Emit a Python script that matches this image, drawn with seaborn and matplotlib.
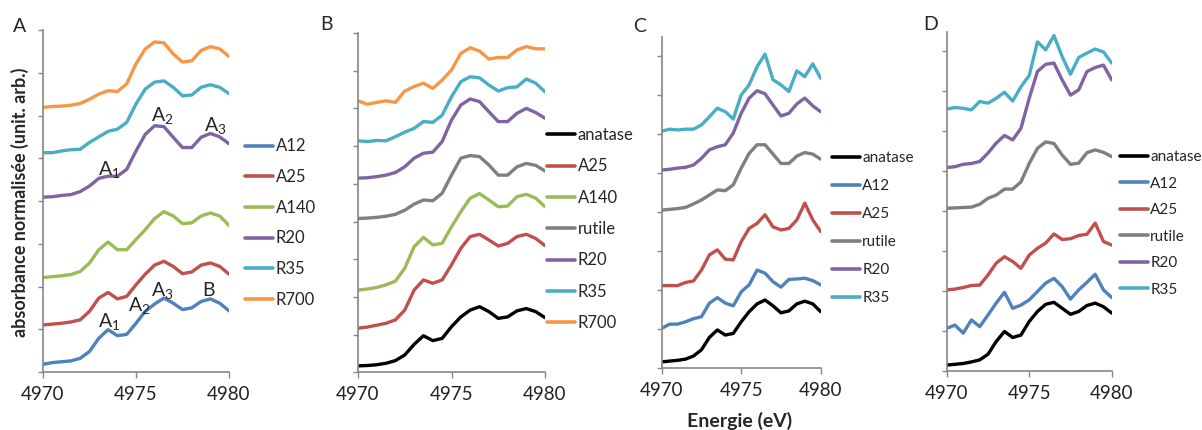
import matplotlib
matplotlib.use("Agg")
import matplotlib.pyplot as plt
from matplotlib.lines import Line2D
import pandas as pd
import seaborn as sns

# energy grid (eV)
energy = [4970.0, 4970.5, 4971.0, 4971.5, 4972.0, 4972.5, 4973.0, 4973.5, 4974.0, 4974.5,
          4975.0, 4975.5, 4976.0, 4976.5, 4977.0, 4977.5, 4978.0, 4978.5, 4979.0, 4979.5, 4980.0]

# panel A (offset spectra, arb. units)
a_A12 = [0.18, 0.22, 0.24, 0.26, 0.32, 0.48, 0.79, 0.99, 0.85, 0.88, 1.14,
         1.42, 1.59, 1.73, 1.61, 1.46, 1.50, 1.65, 1.71, 1.61, 1.43]
a_A25 = [1.10, 1.12, 1.14, 1.17, 1.22, 1.42, 1.73, 1.86, 1.71, 1.77, 2.04,
         2.29, 2.50, 2.59, 2.47, 2.30, 2.34, 2.50, 2.55, 2.47, 2.29]
a_A140 = [2.21, 2.23, 2.25, 2.28, 2.35, 2.55, 2.86, 3.04, 2.86, 2.86, 3.10,
          3.33, 3.59, 3.75, 3.65, 3.47, 3.49, 3.65, 3.72, 3.65, 3.43]
a_R20 = [4.09, 4.10, 4.13, 4.15, 4.22, 4.35, 4.53, 4.58, 4.58, 4.74, 5.17,
         5.56, 5.76, 5.74, 5.49, 5.25, 5.25, 5.49, 5.58, 5.50, 5.34]
a_R35 = [5.13, 5.13, 5.17, 5.20, 5.21, 5.37, 5.50, 5.63, 5.68, 5.84, 6.27,
         6.62, 6.78, 6.81, 6.66, 6.46, 6.48, 6.66, 6.72, 6.66, 6.51]
a_R700 = [6.19, 6.21, 6.22, 6.24, 6.28, 6.38, 6.50, 6.58, 6.56, 6.74, 7.21,
          7.56, 7.72, 7.70, 7.44, 7.25, 7.28, 7.52, 7.61, 7.56, 7.38]

# panel B
b_anatase = [0.17, 0.18, 0.20, 0.24, 0.31, 0.46, 0.74, 0.97, 0.84, 0.90, 1.21,
             1.47, 1.65, 1.74, 1.61, 1.43, 1.47, 1.63, 1.69, 1.61, 1.45]
b_A25 = [1.17, 1.20, 1.25, 1.30, 1.39, 1.65, 2.18, 2.45, 2.36, 2.45, 2.85,
         3.29, 3.60, 3.66, 3.51, 3.35, 3.42, 3.60, 3.66, 3.55, 3.36]
b_A140 = [2.18, 2.21, 2.25, 2.32, 2.42, 2.76, 3.33, 3.58, 3.38, 3.42, 3.86,
          4.26, 4.62, 4.74, 4.57, 4.39, 4.41, 4.66, 4.72, 4.62, 4.39]
b_rutile = [4.08, 4.09, 4.11, 4.14, 4.19, 4.30, 4.46, 4.57, 4.55, 4.75, 5.23,
            5.68, 5.75, 5.72, 5.50, 5.23, 5.23, 5.45, 5.54, 5.49, 5.34]
b_R20 = [5.15, 5.16, 5.19, 5.23, 5.30, 5.45, 5.68, 5.81, 5.84, 6.12, 6.69,
         7.09, 7.25, 7.18, 6.91, 6.65, 6.65, 6.87, 7.00, 6.89, 6.74]
b_R35 = [6.14, 6.12, 6.15, 6.14, 6.25, 6.37, 6.47, 6.65, 6.63, 6.82, 7.31,
         7.71, 7.84, 7.81, 7.62, 7.46, 7.55, 7.57, 7.78, 7.67, 7.44]
b_R700 = [7.20, 7.11, 7.16, 7.20, 7.16, 7.46, 7.58, 7.67, 7.53, 7.75, 8.02,
          8.46, 8.61, 8.52, 8.31, 8.35, 8.35, 8.55, 8.64, 8.58, 8.58]

# panel C
c_anatase = [0.15, 0.17, 0.19, 0.22, 0.30, 0.46, 0.78, 0.97, 0.84, 0.88, 1.18,
             1.44, 1.64, 1.74, 1.59, 1.41, 1.46, 1.64, 1.71, 1.64, 1.44]
c_A12 = [1.01, 1.12, 1.12, 1.18, 1.26, 1.31, 1.66, 1.80, 1.66, 1.59, 1.95,
         2.13, 2.51, 2.43, 2.21, 2.07, 2.27, 2.28, 2.30, 2.24, 2.13]
c_A25 = [2.11, 2.11, 2.11, 2.19, 2.23, 2.51, 2.90, 3.03, 2.79, 2.77, 3.24,
         3.58, 3.71, 3.93, 3.62, 3.54, 3.58, 3.80, 4.23, 3.80, 3.50]
c_rutile = [4.05, 4.07, 4.09, 4.12, 4.21, 4.31, 4.44, 4.57, 4.55, 4.70, 5.13,
            5.51, 5.73, 5.73, 5.49, 5.25, 5.25, 5.44, 5.53, 5.49, 5.36]
c_R20 = [5.08, 5.10, 5.13, 5.15, 5.21, 5.38, 5.60, 5.68, 5.73, 6.03, 6.54,
         6.93, 7.12, 7.04, 6.75, 6.47, 6.54, 6.78, 6.93, 6.73, 6.58]
c_R35 = [6.08, 6.13, 6.11, 6.13, 6.13, 6.24, 6.45, 6.67, 6.58, 6.39, 7.01,
         7.27, 7.74, 8.06, 7.40, 7.27, 7.10, 7.63, 7.48, 7.81, 7.44]

# panel D
d_anatase = [0.14, 0.16, 0.18, 0.22, 0.27, 0.41, 0.73, 0.98, 0.83, 0.89, 1.23,
             1.48, 1.66, 1.71, 1.56, 1.41, 1.48, 1.63, 1.69, 1.60, 1.44]
d_A12 = [1.06, 1.14, 0.94, 1.27, 1.10, 1.39, 1.69, 1.96, 1.56, 1.64, 1.77,
         1.98, 2.19, 2.31, 2.10, 1.79, 2.02, 2.21, 2.41, 2.02, 1.83]
d_A25 = [2.02, 2.04, 2.08, 2.13, 2.14, 2.39, 2.69, 2.85, 2.73, 2.56, 2.89,
         3.06, 3.19, 3.42, 3.28, 3.30, 3.38, 3.41, 3.69, 3.23, 3.14]
d_rutile = [4.06, 4.07, 4.08, 4.09, 4.16, 4.31, 4.39, 4.54, 4.54, 4.72, 5.18,
            5.56, 5.72, 5.68, 5.39, 5.16, 5.19, 5.45, 5.52, 5.46, 5.35]
d_R20 = [5.08, 5.10, 5.16, 5.18, 5.23, 5.44, 5.69, 5.88, 5.77, 6.06, 6.81,
         7.48, 7.66, 7.69, 7.27, 6.89, 7.02, 7.48, 7.58, 7.64, 7.27]
d_R35 = [6.54, 6.58, 6.56, 6.52, 6.73, 6.69, 6.81, 6.96, 6.74, 7.10, 7.38,
         8.22, 8.02, 8.38, 7.85, 7.41, 7.83, 7.94, 8.04, 7.97, 7.69]

COLORS = {
    "anatase": "#000000",
    "A12": "#4F81BD",
    "A25": "#C0504D",
    "A140": "#9BBB59",
    "rutile": "#7F7F7F",
    "R20": "#8064A2",
    "R35": "#4BACC6",
    "R700": "#F79646",
}
AXIS_GREY = "#868686"

panels = [
    {"tag": "A", "series": {"A12": a_A12, "A25": a_A25, "A140": a_A140,
                            "R20": a_R20, "R35": a_R35, "R700": a_R700}},
    {"tag": "B", "series": {"anatase": b_anatase, "A25": b_A25, "A140": b_A140,
                            "rutile": b_rutile, "R20": b_R20, "R35": b_R35, "R700": b_R700}},
    {"tag": "C", "series": {"anatase": c_anatase, "A12": c_A12, "A25": c_A25,
                            "rutile": c_rutile, "R20": c_R20, "R35": c_R35}},
    {"tag": "D", "series": {"anatase": d_anatase, "A12": d_A12, "A25": d_A25,
                            "rutile": d_rutile, "R20": d_R20, "R35": d_R35}},
]

# layout in pixels: axes box (left, top, right, bottom), y top, n ticks,
# legend (x, y, row spacing, font size)
layout = {
    "A": dict(box=(43, 30, 229, 372), ytop=8.0, nticks=8,
              leg=(245, 223, 0.88, 12), tag_xy=(20, 26)),
    "B": dict(box=(358, 33, 545, 372.3), ytop=9.0, nticks=9,
              leg=(547, 229, 0.92, 12), tag_xy=(327, 24)),
    "C": dict(box=(661.7, 37, 820.7, 367.7), ytop=8.5, nticks=8,
              leg=(832, 228, 0.92, 11), tag_xy=(640, 26)),
    "D": dict(box=(946.7, 32.3, 1111.7, 370.7), ytop=8.46, nticks=8,
              leg=(1120, 223.5, 0.82, 11), tag_xy=(931, 25)),
}

W, H = 1202, 430

sns.set_theme(style="white")
plt.rcParams["font.family"] = ["Lato", "DejaVu Sans"]
plt.rcParams["mathtext.fontset"] = "custom"
plt.rcParams["mathtext.rm"] = "Lato"
plt.rcParams["lines.solid_joinstyle"] = "round"
plt.rcParams["lines.solid_capstyle"] = "round"

fig = plt.figure(figsize=(W / 100, H / 100), dpi=100)

for p in panels:
    tag = p["tag"]
    lay = layout[tag]
    l, t, r, b = lay["box"]
    ax = fig.add_axes([l / W, 1 - b / H, (r - l) / W, (b - t) / H])

    order = list(p["series"].keys())
    df = pd.concat(
        [pd.DataFrame({"energy": energy, "absorbance": vals, "sample": name})
         for name, vals in p["series"].items()],
        ignore_index=True,
    )
    sns.lineplot(data=df, x="energy", y="absorbance", hue="sample", hue_order=order,
                 palette=COLORS, linewidth=2.4, estimator=None, legend=False, ax=ax)

    ax.set_xlim(4970, 4980)
    ax.set_ylim(0, lay["ytop"])
    ax.set_xticks([4970, 4975, 4980])
    ax.set_yticks(range(0, lay["nticks"] + 1))
    ax.set_yticklabels([])
    ax.set_xlabel("")
    ax.set_ylabel("")
    sns.despine(ax=ax)
    for side in ("left", "bottom"):
        ax.spines[side].set_color(AXIS_GREY)
        ax.spines[side].set_linewidth(1.2)
    ax.tick_params(axis="both", direction="out", color=AXIS_GREY, width=1.0)
    ax.tick_params(axis="y", length=3.5, left=True)
    ax.tick_params(axis="x", length=4, bottom=True, labelsize=13.5, pad=6, labelcolor="#222222")

    handles = [Line2D([], [], color=COLORS[s], lw=2.6) for s in order]
    lx, ly, lsp, lfs = lay["leg"]
    ax.legend(handles, order, loc="center left", bbox_to_anchor=(lx / W, 1 - ly / H),
              bbox_transform=fig.transFigure, frameon=False, fontsize=lfs,
              handlelength=28 / (lfs * 100 / 72), handletextpad=0.15, borderpad=0,
              borderaxespad=0, labelspacing=lsp)

    tx, ty = lay["tag_xy"]
    fig.text(tx / W, 1 - ty / H, tag, fontsize=14, ha="center", va="center")

    if tag == "A":
        notes = [
            (r"$\mathrm{A_1}$", 4973.55, 4.74), (r"$\mathrm{A_2}$", 4976.4, 5.99),
            (r"$\mathrm{A_3}$", 4979.25, 5.77), (r"$\mathrm{A_1}$", 4973.55, 1.17),
            (r"$\mathrm{A_2}$", 4975.2, 1.55), (r"$\mathrm{A_3}$", 4976.4, 1.9),
            ("B", 4978.9, 1.9),
        ]
        for txt, x, y in notes:
            ax.text(x, y, txt, fontsize=14, ha="center", va="center")

fig.text(20 / W, 1 - 202 / H, "absorbance normalisée (unit. arb.)", rotation=90,
         fontsize=13, fontweight="bold", ha="center", va="center")
fig.text(740 / W, 1 - 421 / H, "Energie (eV)", fontsize=14, fontweight="bold",
         ha="center", va="center")

fig.savefig("out.png", dpi=100)
